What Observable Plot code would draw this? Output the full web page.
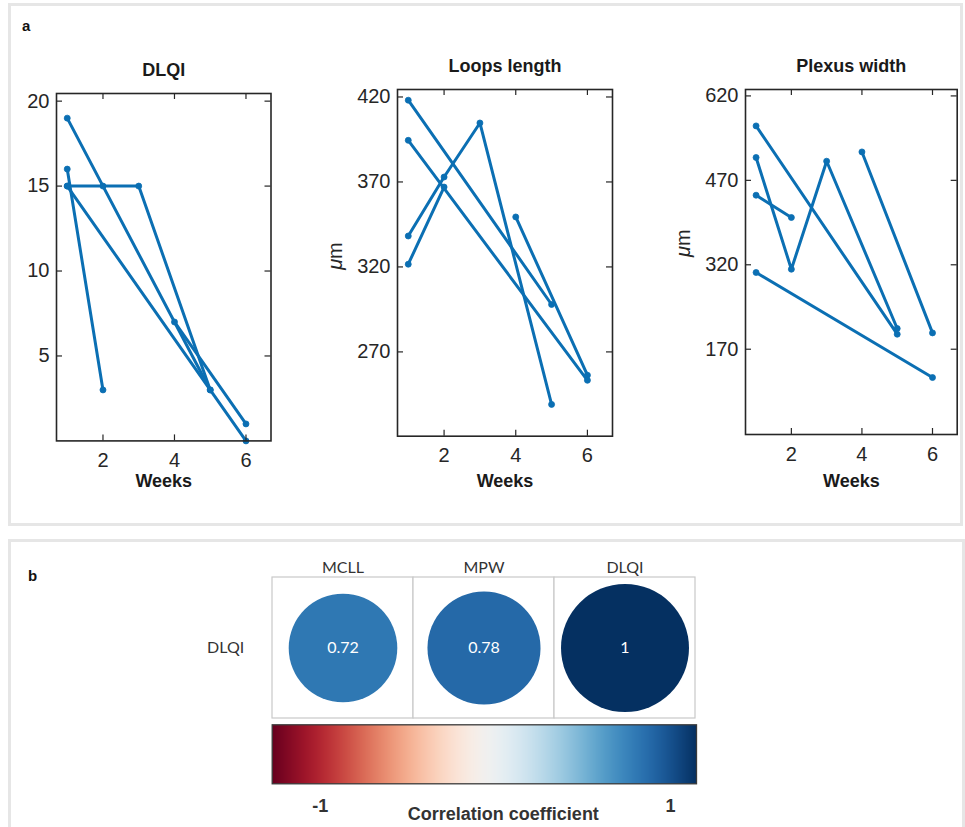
<!DOCTYPE html>
<html><head><meta charset="utf-8">
<script src="https://cdn.jsdelivr.net/npm/d3@7"></script>
<script src="https://cdn.jsdelivr.net/npm/@observablehq/plot@0.6"></script>
<style>
body{margin:0;background:#fff;}
#root{position:relative;width:965px;height:827px;overflow:hidden;background:#fff;font-family:"Liberation Sans",Arial,sans-serif;}
.panel{position:absolute;border:3px solid #e6e6e6;box-sizing:border-box;}
.holder{position:absolute;}
.tag{position:absolute;font-weight:bold;font-size:15px;color:#111;line-height:1;}
</style></head><body><div id="root">
<div class="panel" style="left:8px;top:3px;width:955px;height:523px"></div>
<div class="panel" style="left:8px;top:539px;width:957px;height:300px"></div>
<div class="tag" style="left:22px;top:18px">a</div>
<div class="tag" style="left:28px;top:568px">b</div>
</div>
<script>
// ---------------- data ----------------
const patients = ["P1", "P2", "P3", "P4", "P5"];
const patientWeeks = [[1, 2], [1, 2, 3, 5], [1, 5], [4, 6], [1, 6]];
const dlqiValues = [[16, 3], [15, 15, 15, 3], [19, 3], [7, 1], [15, 0]];
const loopsValues = [[321.6, 367], [338.2, 372.9, 404.7, 239.1], [418.1, 297.9], [349.4, 256.3], [394.5, 253.3]];
const plexusValues = [[443.6, 404], [510.6, 312.1, 504, 206.8], [566.7, 196.7], [520.5, 199], [306.3, 119.7]];
const weekTicks = [2, 4, 6];
const dlqiTicks = [5, 10, 15, 20];
const loopsTicks = [270, 320, 370, 420];
const plexusTicks = [170, 320, 470, 620];
const panelTitles = ["DLQI", "Loops length", "Plexus width"];
const xAxisLabel = "Weeks";
const unitLabel = "μm";
const corrColumns = ["MCLL", "MPW", "DLQI"];
const corrRows = ["DLQI"];
const corrValues = [0.72, 0.78, 1];
const colorbarTickLabels = ["-1", "1"];
const colorbarLabel = "Correlation coefficient";

// ---------------- helpers ----------------
const root = document.getElementById("root");
const BLUE = "#0b6fb3";
const INK = "#262626";
const HELV = "'Liberation Sans', Arial, Helvetica, sans-serif";

function place(node, left, top) {
  const d = document.createElement("div");
  d.className = "holder";
  d.style.left = left + "px";
  d.style.top = top + "px";
  d.appendChild(node);
  root.appendChild(d);
  return node;
}

function linePanel({values, yTicks, yDomain, title, unit, unitDy, frame}) {
  const rows = [];
  patients.forEach((p, i) => patientWeeks[i].forEach((w, j) => rows.push({patient: p, week: w, value: values[i][j]})));
  const svgLeft = frame.L - 80, svgTop = frame.T - 45;
  const width = Math.round(frame.R - svgLeft + 6);
  const height = Math.round(frame.B - svgTop + 60);
  const fw = frame.R - frame.L, fh = frame.B - frame.T;
  const marks = [
    Plot.line(rows, {x: "week", y: "value", z: "patient", stroke: BLUE, strokeWidth: 3, strokeLinejoin: "round"}),
    Plot.dot(rows, {x: "week", y: "value", r: 3, fill: BLUE, stroke: BLUE, strokeWidth: 0.8}),
    Plot.tickY(yTicks, {y: d => d, insetRight: fw - 6, stroke: INK, strokeWidth: 1.2}),
    Plot.tickY(yTicks, {y: d => d, insetLeft: fw - 6, stroke: INK, strokeWidth: 1.2}),
    Plot.tickX(weekTicks, {x: d => d, insetTop: fh - 6, stroke: INK, strokeWidth: 1.2}),
    Plot.tickX(weekTicks, {x: d => d, insetBottom: fh - 6, stroke: INK, strokeWidth: 1.2}),
    Plot.axisY(yTicks, {tickSize: 0, tickPadding: 7, fontSize: 20, label: null, fill: INK}),
    Plot.axisX(weekTicks, {tickSize: 0, tickPadding: 12, fontSize: 20, label: null, fill: INK}),
    Plot.frame({stroke: INK, strokeWidth: 1.6}),
    Plot.text([title], {text: d => d, frameAnchor: "top", lineAnchor: "middle", dy: -23, fontWeight: "bold", fontSize: 18, fill: "#1a1a1a"}),
    Plot.text([xAxisLabel], {text: d => d, frameAnchor: "bottom", lineAnchor: "middle", dy: 481 - frame.B, fontWeight: "bold", fontSize: 18, fill: "#1a1a1a"})
  ];
  if (unit) marks.push(Plot.text([unit], {text: d => d, frameAnchor: "left", lineAnchor: "middle", dx: -62, dy: unitDy, rotate: -90, fontSize: 20, fill: INK}));
  const svg = Plot.plot({
    width, height,
    marginLeft: frame.L - svgLeft,
    marginRight: width - (frame.R - svgLeft),
    marginTop: frame.T - svgTop,
    marginBottom: height - (frame.B - svgTop),
    x: {domain: [0.7, 6.7]},
    y: {domain: yDomain},
    style: {fontFamily: HELV, color: INK, background: "transparent", overflow: "visible"},
    marks
  });
  svg.querySelectorAll("text").forEach(t => {
    if (t.textContent === unitLabel) t.innerHTML = '<tspan font-style="italic">μ</tspan>m';
  });
  place(svg, svgLeft, svgTop);
}

linePanel({values: dlqiValues, yTicks: dlqiTicks, yDomain: [0, 20.45], title: panelTitles[0], unit: null,
  frame: {L: 55.5, R: 270, T: 93.3, B: 440.7}});
linePanel({values: loopsValues, yTicks: loopsTicks, yDomain: [220.4, 424.4], title: panelTitles[1], unit: unitLabel, unitDy: 7,
  frame: {L: 396.7, R: 611.7, T: 89.3, B: 436}});
linePanel({values: plexusValues, yTicks: plexusTicks, yDomain: [18.5, 631.4], title: panelTitles[2], unit: unitLabel, unitDy: -5,
  frame: {L: 745, R: 956.7, T: 89.3, B: 434.3}});

// ---------------- correlation panel ----------------
const corrData = corrColumns.map((c, i) => ({col: c, row: corrRows[0], value: corrValues[i]}));
const colorScale = {type: "linear", scheme: "RdBu", domain: [-1, 1]};
const G = {L: 271.7, R: 696, T: 576.7, B: 717.7};
const cLeft = 180, cTop = 545;
const cWidth = 530;
const corrSvg = Plot.plot({
  width: cWidth, height: Math.round(G.B - cTop + 4),
  marginLeft: G.L - cLeft, marginRight: cWidth - (G.R - cLeft),
  marginTop: G.T - cTop, marginBottom: Math.round(G.B - cTop + 4) - (G.B - cTop),
  x: {domain: corrColumns, padding: 0},
  y: {domain: corrRows, padding: 0},
  r: {type: "sqrt", domain: [0, 1], range: [0, 64]},
  color: colorScale,
  style: {fontFamily: "Lato, 'Open Sans', sans-serif", color: "#333", background: "transparent", overflow: "visible"},
  marks: [
    Plot.cell(corrData, {x: "col", y: "row", fill: "white", stroke: "#c9c9c9", strokeWidth: 1.2, inset: 0}),
    Plot.dot(corrData, {x: "col", y: "row", r: "value", fill: "value"}),
    Plot.text(corrData, {x: "col", y: "row", text: d => String(d.value), fill: "white", fontSize: 16}),
    Plot.axisX({anchor: "top", tickSize: 0, tickPadding: 4, fontSize: 16, label: null, fill: "#333"}),
    Plot.axisY({anchor: "left", tickSize: 0, tickPadding: 28, fontSize: 16, label: null, fill: "#333"})
  ]
});
place(corrSvg, cLeft, cTop);

const B = {L: 271.7, R: 696, T: 724.3, B: 783.3};
const bTop = 718;
const barSvg = Plot.plot({
  width: cWidth, height: 109,
  marginLeft: B.L - cLeft, marginRight: cWidth - (B.R - cLeft),
  marginTop: B.T - bTop, marginBottom: 109 - (B.B - bTop),
  x: {domain: [-1, 1], axis: null},
  y: {domain: [0, 1], axis: null},
  color: colorScale,
  style: {fontFamily: HELV, color: "#333", background: "transparent", overflow: "visible"},
  marks: [
    Plot.raster({x1: -1, x2: 1, y1: 0, y2: 1, fill: (x, y) => x, imageRendering: "auto"}),
    Plot.frame({stroke: "#3a3a3a", strokeWidth: 1.3}),
    Plot.text([colorbarTickLabels[0]], {text: d => d, frameAnchor: "bottom-left", lineAnchor: "middle", dx: 40, dy: 22, fontWeight: "bold", fontSize: 18, fill: "#333"}),
    Plot.text([colorbarTickLabels[1]], {text: d => d, frameAnchor: "bottom-right", lineAnchor: "middle", dx: -21, dy: 22, fontWeight: "bold", fontSize: 18, fill: "#333"}),
    Plot.text([colorbarLabel], {text: d => d, frameAnchor: "bottom", lineAnchor: "middle", dx: 19, dy: 30, fontWeight: "bold", fontSize: 18, fill: "#333"})
  ]
});
place(barSvg, cLeft, bTop);
</script>
</body></html>
